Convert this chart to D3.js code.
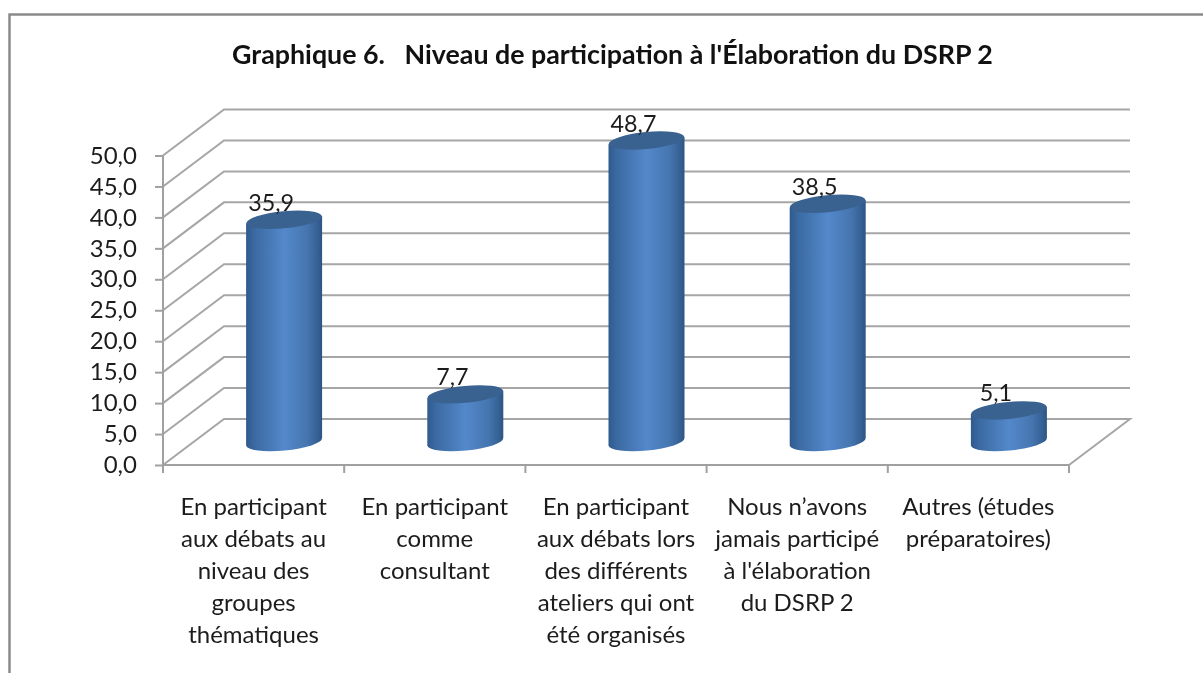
<!DOCTYPE html>
<html lang="fr">
<head>
  <meta charset="UTF-8">
  <title>Graphique 6</title>
  <style>
    html, body { margin: 0; padding: 0; background: #fff; overflow: hidden; }
    svg { display: block; font-family: Lato, "Open Sans", sans-serif; filter: blur(0.45px); }
    .grid { fill: none; stroke: #a6a6a6; stroke-width: 2; }
    .axis path, .axis line { stroke: #a0a0a0; stroke-width: 2; }
    .axis text { font-family: Lato, "Open Sans", sans-serif; font-size: 24px; fill: #1c1c1c; }
  </style>
</head>
<body>
  <svg id="chart" width="1203" height="673"></svg>
  <script src="https://d3js.org/d3.v7.min.js"></script>
  <script>
    // Values
    const title = "Graphique 6.   Niveau de participation à l'Élaboration du DSRP 2";
    const categories = [
      ["En participant", "aux débats au", "niveau des", "groupes", "thématiques"],
      ["En participant", "comme", "consultant"],
      ["En participant", "aux débats lors", "des différents", "ateliers qui ont", "été organisés"],
      ["Nous n’avons", "jamais participé", "à l'élaboration", "du DSRP 2"],
      ["Autres (études", "préparatoires)"]
    ];
    const values = [35.9, 7.7, 48.7, 38.5, 5.1];
    const yTicks = [0, 5, 10, 15, 20, 25, 30, 35, 40, 45, 50];

    const svg = d3.select('#chart');
    const fmt = d3.formatLocale({ decimal: ",", thousands: " ", grouping: [3], currency: ["", ""] }).format(".1f");

    // front plane of the 3D box, and how far the back wall is shifted
    const x = d3.scaleBand().domain(d3.range(categories.length)).range([163, 1069]);
    const y = d3.scaleLinear().domain([0, 50]).range([465, 155.5]);
    const depthX = 61, depthY = -46;
    const rx = 38, ry = 8.5, tilt = -5.5;

    // frame, only top and left are visible in the crop
    svg.append('path')
      .attr('d', 'M9.5,673V14.5H1203')
      .attr('fill', 'none').attr('stroke', '#8a8a8a').attr('stroke-width', 2.5);

    svg.append('text')
      .attr('x', 612.5).attr('y', 64)
      .attr('text-anchor', 'middle')
      .attr('font-size', 26.8).attr('font-weight', 700).attr('fill', '#111')
      .style('white-space', 'pre')
      .text(title);

    // gridlines: side wall + back wall
    const x0 = x.range()[0], x1 = x.range()[1];
    svg.append('g').selectAll('path').data(yTicks).enter().append('path')
      .attr('class', 'grid')
      .attr('d', d => d === 0
        ? `M${x0},${y(0)}L${x0 + depthX},${y(0) + depthY}H${x1 + depthX}L${x1},${y(0)}`
        : `M${x0},${y(d)}L${x0 + depthX},${y(d) + depthY}H${x1 + depthX}`);

    // y axis
    svg.append('g').attr('class', 'axis')
      .attr('transform', `translate(${x0},0)`)
      .call(d3.axisLeft(y).tickValues(yTicks).tickFormat(fmt).tickSize(8).tickPadding(18))
      .call(g => g.selectAll('path.domain').attr('d', `M0,${y(0)}V${y(50)}`));

    // x axis, ticks sit on the band edges
    const xAxis = svg.append('g').attr('class', 'axis').attr('transform', `translate(0,${y(0)})`);
    xAxis.append('path').attr('d', `M${x0},0H${x1}`);
    xAxis.selectAll('line').data(d3.range(categories.length + 1)).enter().append('line')
      .attr('x1', i => x0 + i * x.step()).attr('x2', i => x0 + i * x.step())
      .attr('y1', 0).attr('y2', 8);

    // category labels
    const cat = svg.append('g').selectAll('text').data(categories).enter().append('text')
      .attr('text-anchor', 'middle')
      .attr('font-size', 24).attr('fill', '#1c1c1c');
    cat.each(function (lines, i) {
      d3.select(this).selectAll('tspan').data(lines).enter().append('tspan')
        .attr('x', x(i) + x.bandwidth() / 2)
        .attr('y', (d, j) => 515 + j * 32)
        .text(d => d);
    });

    // cylinder shading, in bar coordinates so the body and the base line up
    const grad = svg.append('defs').append('linearGradient')
      .attr('id', 'cyl').attr('gradientUnits', 'userSpaceOnUse')
      .attr('x1', -rx).attr('x2', rx).attr('y1', 0).attr('y2', 0);
    [[0, '#2f5a8e'], [0.12, '#3c6ba3'], [0.5, '#5388cb'], [0.8, '#4676b0'], [0.95, '#345f92'], [1, '#2d5583']]
      .forEach(s => grad.append('stop').attr('offset', s[0]).attr('stop-color', s[1]));

    const slope = Math.tan(tilt * Math.PI / 180);

    const bars = svg.append('g').selectAll('g').data(values).enter().append('g')
      .attr('transform', (d, i) => `translate(${x(i) + x.bandwidth() / 2 + depthX / 2},${depthY / 2})`);

    // base, then body, then the darker top
    bars.append('ellipse')
      .attr('rx', rx).attr('ry', ry)
      .attr('fill', 'url(#cyl)')
      .attr('transform', `translate(0,${y(0)}) rotate(${tilt})`);

    bars.append('path')
      .attr('fill', 'url(#cyl)')
      .attr('d', d => `M${-rx},${y(d) - rx * slope}L${-rx},${y(0) - rx * slope}L${rx},${y(0) + rx * slope}L${rx},${y(d) + rx * slope}Z`);

    bars.append('ellipse')
      .attr('rx', rx).attr('ry', ry)
      .attr('fill', '#3a6291')
      .attr('transform', d => `translate(0,${y(d)}) rotate(${tilt})`);

    bars.append('text')
      .attr('x', -13).attr('y', d => y(d) - 9)
      .attr('text-anchor', 'middle')
      .attr('font-size', 23.3).attr('fill', '#1c1c1c')
      .text(d => fmt(d));
  </script>
</body>
</html>
